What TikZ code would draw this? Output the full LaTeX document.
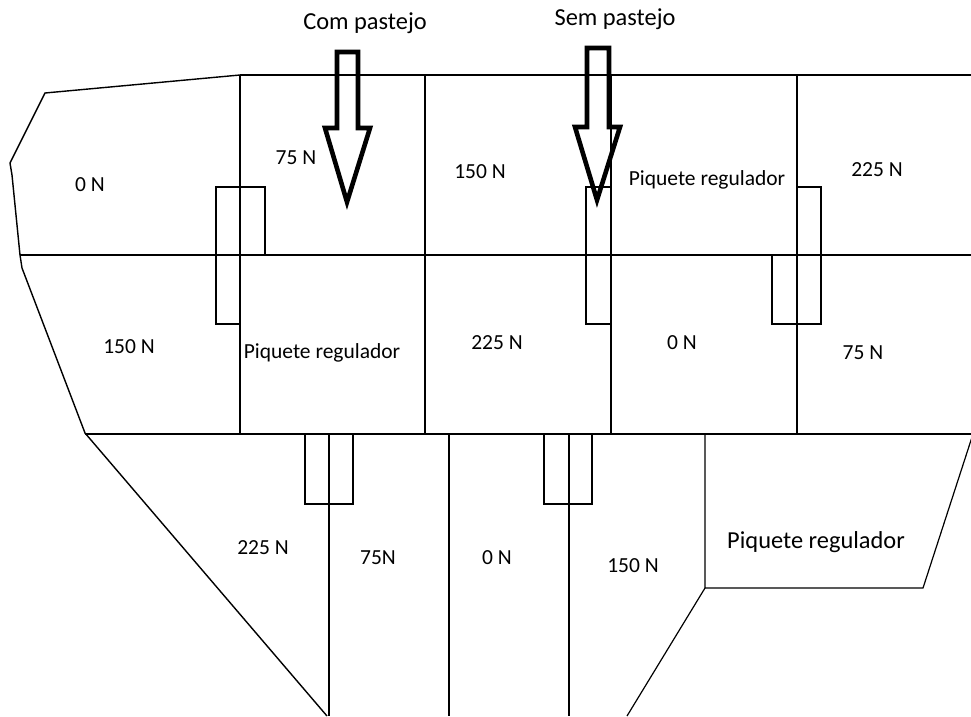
\documentclass[tikz,border=0pt]{standalone}
\usepackage{fontspec}
\setmainfont{Carlito}
\begin{document}
\begin{tikzpicture}[x=1pt,y=-1pt,
  wall/.style={draw=black,line width=1.4pt},
  fence/.style={draw=black,line width=1.2pt},
  bigarrow/.style={draw=black,line width=4.6pt,miter limit=10,line join=miter},
  lbl/.style={inner sep=0pt,font=\fontsize{21.5}{24}\selectfont},
  biglbl/.style={inner sep=0pt,font=\fontsize{24.4}{27}\selectfont}]
\useasboundingbox (0,0) rectangle (971,716);
\clip (0,0) rectangle (971,716);

% outer boundary on the left side
\draw[wall] (240,75) -- (45,93) -- (10,163) -- (12,175) -- (20,255)
  -- (22,268) -- (85,433) -- (327,716);

% main grid
\draw[fence] (240,75) -- (975,75);
\draw[fence] (20,255) -- (975,255);
\draw[fence] (85,434) -- (975,434);
\foreach \x in {240,425,611,797}
  \draw[fence] (\x,75) -- (\x,434);

% lower paddocks
\foreach \x in {329,449,569}
  \draw[fence] (\x,434) -- (\x,716);
\draw[fence] (705,434) -- (705,588) -- (923,588) -- (973,434);
\draw[fence] (705,588) -- (627,716);

% gates between paddocks
\draw[fence] (240,324) -- (216,324) -- (216,187) -- (265,187) -- (265,255);
\draw[fence] (611,187) -- (586,187) -- (586,324) -- (611,324);
\draw[fence] (797,187) -- (821,187) -- (821,324) -- (772,324) -- (772,255);
\draw[fence] (305,434) rectangle (353,504);
\draw[fence] (544,434) rectangle (592,504);

% grazing arrows
\draw[bigarrow] (337,52) -- (358,52) -- (358,128) -- (370,128) -- (347,202)
  -- (325,128) -- (337,128) -- cycle;
\draw[bigarrow] (587,48) -- (609,48) -- (609,127) -- (620,127) -- (597,200)
  -- (575,127) -- (587,127) -- cycle;

% headings
\node[biglbl] (com) at (365,23) {Com pastejo};
\node[biglbl] (sem) at (615,19) {Sem pastejo};

% paddock labels
\node[lbl] (p1) at (90,185) {0 N};
\node[lbl] (p2) at (296,158) {75 N};
\node[lbl] (p3) at (480,172) {150 N};
\node[lbl] (p4) at (707,180) {Piquete regulador};
\node[lbl] (p5) at (877,170) {225 N};
\node[lbl] (p6) at (129,347) {150 N};
\node[lbl] (p7) at (322,353) {Piquete regulador};
\node[lbl] (p8) at (497,343) {225 N};
\node[lbl] (p9) at (682,343) {0 N};
\node[lbl] (p10) at (863,353) {75 N};
\node[lbl] (p11) at (263,548) {225 N};
\node[lbl] (p12) at (378,558) {75N};
\node[lbl] (p13) at (497,558) {0 N};
\node[lbl] (p14) at (633,566) {150 N};
\node[biglbl] (p15) at (816,542) {Piquete regulador};
\end{tikzpicture}
\end{document}
